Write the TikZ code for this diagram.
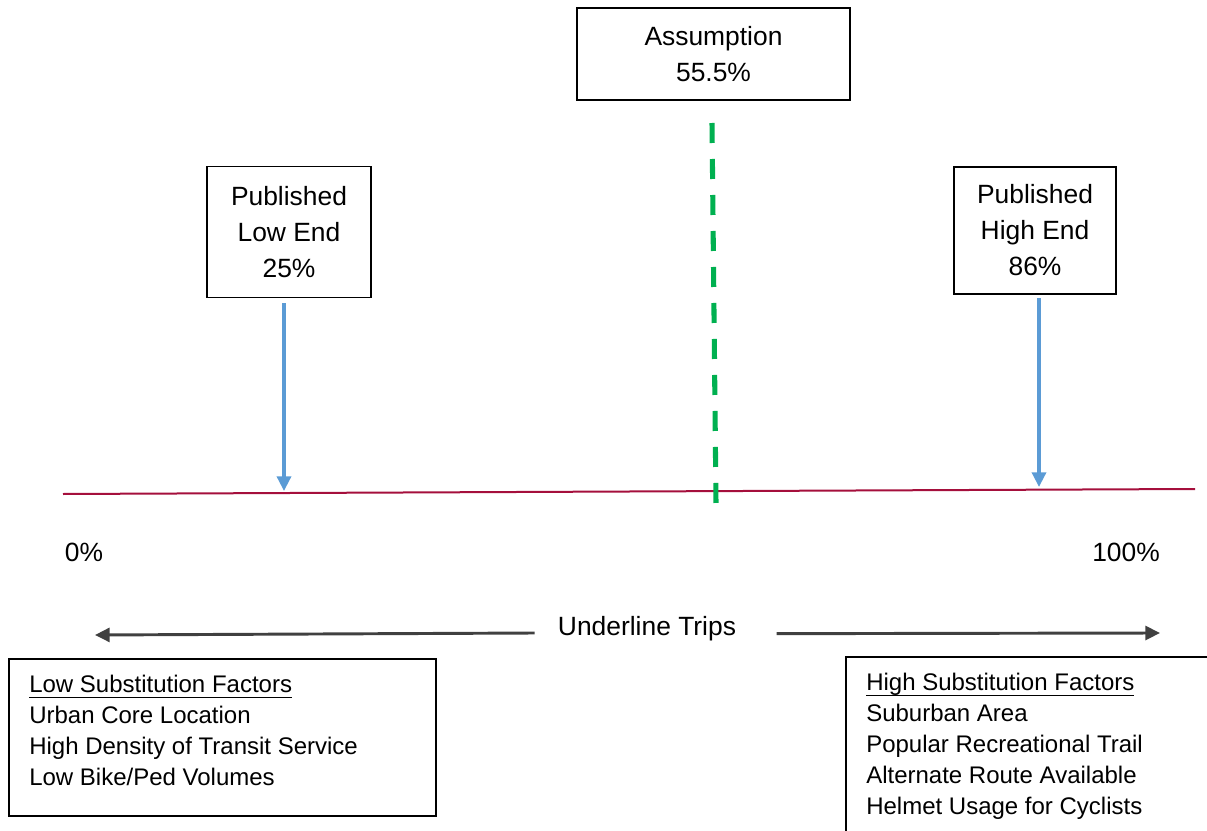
\documentclass[tikz,border=0pt]{standalone}
\usepackage{fontspec}
\setmainfont{Liberation Sans}
\usepackage{xcolor}
\usetikzlibrary{positioning, arrows.meta}

\definecolor{axisred}{HTML}{A50F3C}
\definecolor{markblue}{HTML}{5B9BD5}
\definecolor{assumegreen}{HTML}{00B050}
\definecolor{darkgray}{HTML}{404040}

\newcommand{\headline}[1]{\underline{\smash{#1}\rule[-2pt]{0pt}{14.9pt}}}

\tikzset{
  valuebox/.style={draw, line width=1.2pt, align=center, font=\fontsize{19.8}{27}\selectfont},
  factorbox/.style={draw, line width=1.2pt},
  factortext/.style={align=left, inner sep=0pt, font=\fontsize{18}{23.25}\selectfont},
  label/.style={font=\fontsize{19.8}{24}\selectfont},
  marker/.style={markblue, line width=2.5pt, -{Triangle[length=11pt, width=10.5pt]}},
  span/.style={darkgray, line width=2.2pt, -{Triangle[length=11pt, width=10.5pt]}}
}

\begin{document}
\begin{tikzpicture}[x=0.75pt, y=-0.75pt]
            \clip (0,0) rectangle (1207,831);

            % Value boxes
            \node[valuebox, minimum width=273*0.75pt, minimum height=92*0.75pt] (assume) at (713.5,54) {Assumption\\55.5\%};
            \node[valuebox, minimum width=164*0.75pt, minimum height=131*0.75pt] (lowend) at (289,232) {Published\\Low End\\25\%};
            \node[valuebox, minimum width=162*0.75pt, minimum height=127*0.75pt] (highend) at (1035,230.5) {Published\\High End\\86\%};

            % Axis
            \coordinate (axisL) at (63,494);
            \coordinate (axisR) at (1195,489);
            \draw[axisred, line width=1.5pt] (axisL) -- (axisR);
            \node[label] (zero) at (84,552) {0\%};
            \node[label] (hundred) at (1126,552) {100\%};

            % Markers onto the axis
            \coordinate (lowhit) at (284,491);
            \coordinate (highhit) at (1039,487);
            \draw[marker] (284,303) -- (lowhit);
            \draw[marker] (1039,298) -- (highhit);

            % Assumption line
            \coordinate (assumetop) at (712,123);
            \coordinate (assumebot) at (716,503);
            \draw[assumegreen, line width=3.8pt, dash pattern=on 15pt off 12pt] (assumetop) -- (assumebot);

            % Underline trips
            \node[label] (trips) at (647,629) {Underline Trips};
            \draw[span] ([xshift=-14pt, yshift=-3pt]trips.west) -- (95,635);
            \draw[span] ([xshift=27pt, yshift=-3.5pt]trips.east) -- (1160,633);

            % Factor boxes
            \node[factorbox, minimum width=427*0.75pt, minimum height=157*0.75pt] (lowbox) at (222.5,737.5) {};
            \node[factortext, anchor=north west] (lowtext) at (29,675) {\headline{Low Substitution Factors}\\Urban Core Location\\High Density of Transit Service\\Low Bike/Ped Volumes};
            \draw[factorbox] (846,870) -- (846,657) -- (1250,657);
            \node[factortext, anchor=north west] (hightext) at (866,673) {\headline{High Substitution Factors}\\Suburban Area\\Popular Recreational Trail\\Alternate Route Available\\Helmet Usage for Cyclists};
            \end{tikzpicture}
\end{document}
